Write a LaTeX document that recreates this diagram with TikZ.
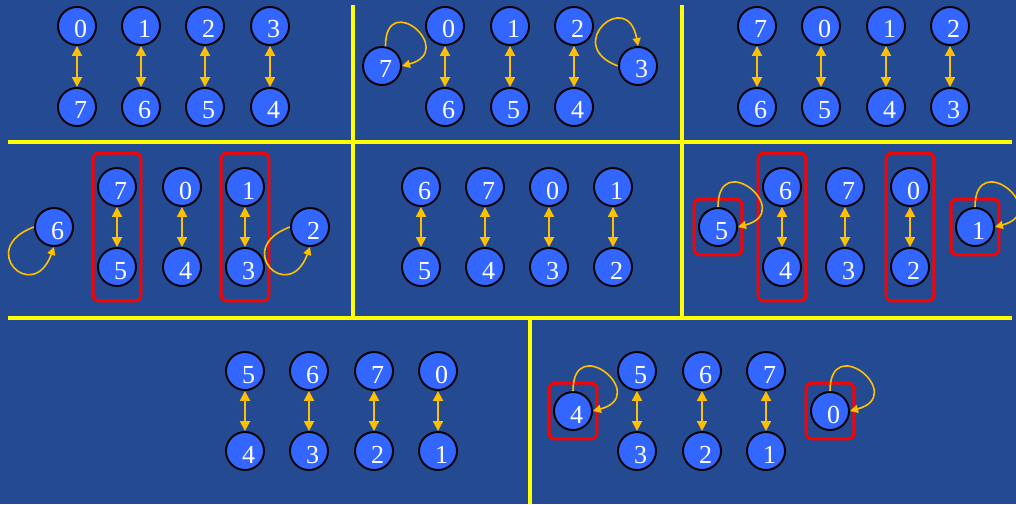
\documentclass[tikz,border=0pt]{standalone}
\usepackage{fontspec}
\setmainfont{Liberation Serif}
\usetikzlibrary{arrows.meta,fit}
\definecolor{bg}{RGB}{36,74,146}
\definecolor{nodeblue}{RGB}{51,102,255}
\definecolor{gold}{RGB}{255,192,0}
\definecolor{lineyellow}{RGB}{255,255,0}
\definecolor{boxred}{RGB}{255,0,0}
\begin{document}
\begin{tikzpicture}[x=1pt,y=1pt,
 v/.style={circle,draw=black,line width=1.9pt,fill=nodeblue,minimum size=38pt,inner sep=0pt,text=white,font=\fontsize{26}{26}\selectfont,text height=24pt,text depth=0pt,execute at begin node=\hspace*{7pt}},
 pair/.style={draw=gold,line width=2pt,{Triangle[length=10pt,width=10pt]}-{Triangle[length=10pt,width=10pt]}},
 loopy/.style={draw=gold,line width=1.6pt,-{Triangle[length=8pt,width=8pt]}},
 divider/.style={draw=lineyellow,line width=3.5pt},
 tallbox/.style={draw=boxred,line width=3pt,rounded corners=6pt,inner xsep=4pt,inner ysep=14pt},
 onebox/.style={draw=boxred,line width=3pt,rounded corners=6pt,inner xsep=4pt,inner ysep=8pt},
]
\fill[bg] (0,0) rectangle (1016,504);
\useasboundingbox (0,0) rectangle (1016,504);

% dividers
\draw[divider] (353,499) -- (353,186);
\draw[divider] (682,499) -- (682,186);
\draw[divider] (8,362) -- (1012,362);
\draw[divider] (8,186) -- (1012,186);
\draw[divider] (530,186) -- (530,0);

% panel 1
\node[v] (a0) at (77,478) {0};
\node[v] (a1) at (141,478) {1};
\node[v] (a2) at (205,478) {2};
\node[v] (a3) at (270,478) {3};
\node[v] (a7) at (77,397) {7};
\node[v] (a6) at (141,397) {6};
\node[v] (a5) at (205,397) {5};
\node[v] (a4) at (270,397) {4};
\draw[pair] (a0) -- (a7);
\draw[pair] (a1) -- (a6);
\draw[pair] (a2) -- (a5);
\draw[pair] (a3) -- (a4);

% panel 2
\node[v] (b0) at (445,478) {0};
\node[v] (b1) at (510,478) {1};
\node[v] (b2) at (574,478) {2};
\node[v] (b6) at (445,397) {6};
\node[v] (b5) at (510,397) {5};
\node[v] (b4) at (574,397) {4};
\node[v] (b7) at (382,438) {7};
\node[v] (b3) at (638,438) {3};
\draw[pair] (b0) -- (b6);
\draw[pair] (b1) -- (b5);
\draw[pair] (b2) -- (b4);
\draw[loopy] (b7.80) .. controls +(90:58) and +(15:58) .. (b7.east);
\draw[loopy] (b3.west) .. controls +(160:60) and +(100:60) .. (b3.north);

% panel 3
\node[v] (c7) at (757,478) {7};
\node[v] (c0) at (821,478) {0};
\node[v] (c1) at (886,478) {1};
\node[v] (c2) at (950,478) {2};
\node[v] (c6) at (757,397) {6};
\node[v] (c5) at (821,397) {5};
\node[v] (c4) at (886,397) {4};
\node[v] (c3) at (950,397) {3};
\draw[pair] (c7) -- (c6);
\draw[pair] (c0) -- (c5);
\draw[pair] (c1) -- (c4);
\draw[pair] (c2) -- (c3);

% panel 4
\node[v] (d7) at (117,317) {7};
\node[v] (d5) at (117,237) {5};
\node[v] (d0) at (182,317) {0};
\node[v] (d4) at (182,237) {4};
\node[v] (d1) at (245,317) {1};
\node[v] (d3) at (245,237) {3};
\node[v] (d6) at (54,277) {6};
\node[v] (d2) at (310,277) {2};
\draw[pair] (d7) -- (d5);
\draw[pair] (d0) -- (d4);
\draw[pair] (d1) -- (d3);
\node[tallbox,fit=(d7)(d5)] (dbox1) {};
\node[tallbox,fit=(d1)(d3)] (dbox2) {};
\draw[loopy] (d6.west) .. controls +(200:62) and +(250:62) .. (d6.south);
\draw[loopy] (d2.west) .. controls +(200:62) and +(250:62) .. (d2.south);

% panel 5
\node[v] (e6) at (421,317) {6};
\node[v] (e7) at (485,317) {7};
\node[v] (e0) at (549,317) {0};
\node[v] (e1) at (613,317) {1};
\node[v] (e5) at (421,237) {5};
\node[v] (e4) at (485,237) {4};
\node[v] (e3) at (549,237) {3};
\node[v] (e2) at (613,237) {2};
\draw[pair] (e6) -- (e5);
\draw[pair] (e7) -- (e4);
\draw[pair] (e0) -- (e3);
\draw[pair] (e1) -- (e2);

% panel 6
\node[v] (f6) at (782,317) {6};
\node[v] (f4) at (782,237) {4};
\node[v] (f7) at (845,317) {7};
\node[v] (f3) at (845,237) {3};
\node[v] (f0) at (910,317) {0};
\node[v] (f2) at (910,237) {2};
\node[v] (f5) at (718,277) {5};
\node[v] (f1) at (975,277) {1};
\draw[pair] (f6) -- (f4);
\draw[pair] (f7) -- (f3);
\draw[pair] (f0) -- (f2);
\node[onebox,fit=(f5)] (fbox1) {};
\node[tallbox,fit=(f6)(f4)] (fbox2) {};
\node[tallbox,fit=(f0)(f2)] (fbox3) {};
\node[onebox,fit=(f1)] (fbox4) {};
\draw[loopy] (f5.north) .. controls +(90:60) and +(15:60) .. (f5.east);
\draw[loopy] (f1.north) .. controls +(90:60) and +(15:60) .. (f1.east);

% panel 7
\node[v] (g5) at (245,133) {5};
\node[v] (g6) at (309,133) {6};
\node[v] (g7) at (374,133) {7};
\node[v] (g0) at (438,133) {0};
\node[v] (g4) at (245,53) {4};
\node[v] (g3) at (309,53) {3};
\node[v] (g2) at (374,53) {2};
\node[v] (g1) at (438,53) {1};
\draw[pair] (g5) -- (g4);
\draw[pair] (g6) -- (g3);
\draw[pair] (g7) -- (g2);
\draw[pair] (g0) -- (g1);

% panel 8
\node[v] (h5) at (637,133) {5};
\node[v] (h6) at (702,133) {6};
\node[v] (h7) at (766,133) {7};
\node[v] (h3) at (637,53) {3};
\node[v] (h2) at (702,53) {2};
\node[v] (h1) at (766,53) {1};
\node[v] (h4) at (573,93) {4};
\node[v] (h0) at (830,93) {0};
\draw[pair] (h5) -- (h3);
\draw[pair] (h6) -- (h2);
\draw[pair] (h7) -- (h1);
\node[onebox,fit=(h4)] (hbox1) {};
\node[onebox,fit=(h0)] (hbox2) {};
\draw[loopy] (h4.north) .. controls +(90:60) and +(15:60) .. (h4.east);
\draw[loopy] (h0.north) .. controls +(90:60) and +(15:60) .. (h0.east);
\end{tikzpicture}
\end{document}
